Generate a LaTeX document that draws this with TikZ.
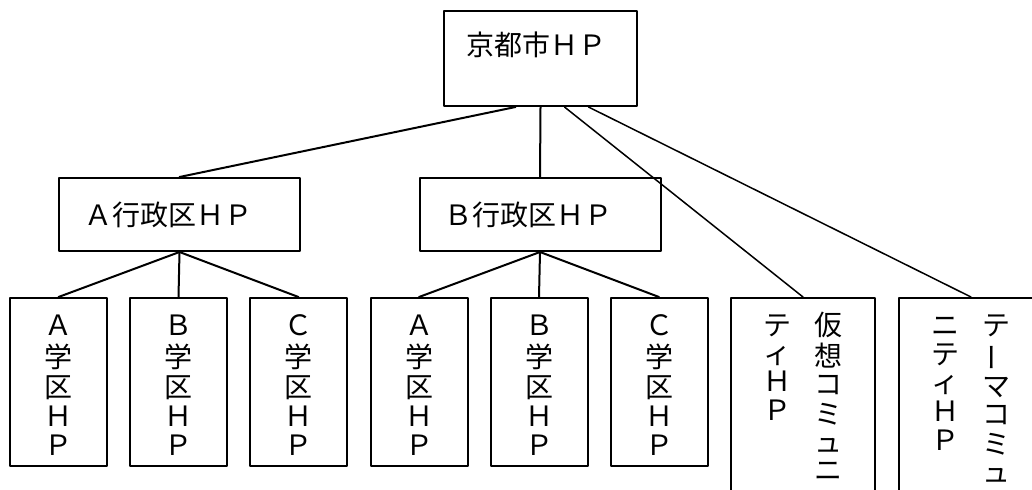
\documentclass[tikz,border=0pt]{standalone}
\usepackage{fontspec}
\setmainfont{Noto Sans CJK JP}
\usepackage{graphicx}
\newcommand{\retsu}[1]{\begin{tabular}[t]{@{}c@{}}#1\end{tabular}}
\newcommand{\tatebo}{\raisebox{0.18em}{\rotatebox[origin=c]{90}{ー}}}
\begin{document}
\begin{tikzpicture}[x=0.5pt, y=-0.5pt, line cap=round, line join=round, font=\fontsize{14pt}{14pt}\selectfont]
	\tikzset{hako/.style={draw, line width=1pt, inner sep=0pt},
		midashi/.style={hako, anchor=north west, align=left, text width=95.5pt, inner xsep=12.5pt, minimum height=36.5pt},
		gakku/.style={hako, anchor=north, minimum width=48.5pt, inner ysep=7pt, text height=11.5pt, text depth=58.5pt},
		komyu/.style={hako, anchor=north, minimum width=72pt, inner ysep=7pt, text height=11.5pt, text depth=86.5pt},
		sen/.style={line width=1pt}, hosen/.style={line width=0.75pt}}
	\useasboundingbox (0,0) rectangle (1032,489);
	\node[hako, anchor=north west, align=left, text width=74.5pt, inner xsep=11pt, inner ysep=10.5pt, text height=11.5pt, text depth=15pt] (kyoto) at (443,10) {京都市ＨＰ};
	\node[midashi] (gyoseiA) at (58,177) {Ａ行政区ＨＰ};
	\node[midashi] (gyoseiB) at (418.5,177) {Ｂ行政区ＨＰ};
	% gakku
	\node[gakku] (gakkuA1) at (58.5,297) {\retsu{Ａ\\学\\区\\Ｈ\\Ｐ}};
	\node[gakku] (gakkuA2) at (178.5,297) {\retsu{Ｂ\\学\\区\\Ｈ\\Ｐ}};
	\node[gakku] (gakkuA3) at (298.5,297) {\retsu{Ｃ\\学\\区\\Ｈ\\Ｐ}};
	\node[gakku] (gakkuB1) at (419,297) {\retsu{Ａ\\学\\区\\Ｈ\\Ｐ}};
	\node[gakku] (gakkuB2) at (539,297) {\retsu{Ｂ\\学\\区\\Ｈ\\Ｐ}};
	\node[gakku] (gakkuB3) at (659,297) {\retsu{Ｃ\\学\\区\\Ｈ\\Ｐ}};
	\node[komyu] (kaso) at (803,297) {\retsu{テ\\ィ\\Ｈ\\Ｐ}\hspace{11.5pt}\retsu{仮\\想\\コ\\ミ\\ュ\\ニ}};
	\node[komyu] (tema) at (971,297) {\retsu{ニ\\テ\\ィ\\Ｈ\\Ｐ}\hspace{11.5pt}\retsu{テ\\\tatebo\\マ\\コ\\ミ\\ュ}};
	% connectors
	\draw[sen] ([xshift=-12.5pt]kyoto.south) -- (gyoseiA.north);
	\draw[sen] (kyoto.south) -- (gyoseiB.north);
	\draw[hosen] ([xshift=12pt]kyoto.south) -- (kaso.north);
	\draw[hosen] ([xshift=24pt]kyoto.south) -- (tema.north);
	\foreach \k in {A1,A2,A3} \draw[sen] (gyoseiA.south) -- (gakku\k.north);
	\foreach \k in {B1,B2,B3} \draw[sen] (gyoseiB.south) -- (gakku\k.north);
\end{tikzpicture}
\end{document}
